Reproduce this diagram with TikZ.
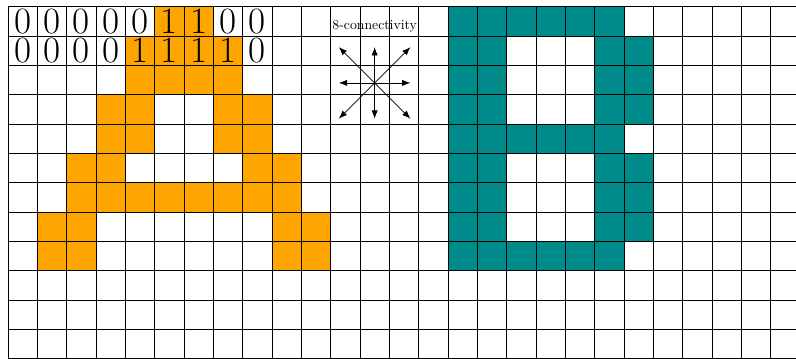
\documentclass[tikz,border=0pt]{standalone}
\usetikzlibrary{arrows.meta}
\definecolor{aorange}{RGB}{255,165,0}
\definecolor{bteal}{RGB}{0,139,139}

\begin{document}
\begin{tikzpicture}[x=0.75cm, y=0.75cm, >={Latex[length=6pt,width=4.5pt]}]
    \useasboundingbox (-0.273, -11.98) rectangle (26.866, 0.227);
    \clip (-0.273, -11.98) rectangle (26.866, 0.227);

    % 1. Letter A (orange cells)
    \foreach \c/\r in {5/0,6/0, 4/1,5/1,6/1,7/1, 4/2,5/2,6/2,7/2,
                       3/3,4/3,7/3,8/3, 3/4,4/4,7/4,8/4,
                       2/5,3/5,8/5,9/5, 2/6,3/6,4/6,5/6,6/6,7/6,8/6,9/6,
                       1/7,2/7,9/7,10/7, 1/8,2/8,9/8,10/8}
        \fill[aorange] (\c, -\r) rectangle ++(1, -1);

    % 2. Letter B (teal cells)
    \foreach \c/\r in {15/0,16/0,17/0,18/0,19/0,20/0,
                       15/1,16/1,20/1,21/1, 15/2,16/2,20/2,21/2, 15/3,16/3,20/3,21/3,
                       15/4,16/4,17/4,18/4,19/4,20/4,
                       15/5,16/5,20/5,21/5, 15/6,16/6,20/6,21/6, 15/7,16/7,20/7,21/7,
                       15/8,16/8,17/8,18/8,19/8,20/8}
        \fill[bteal] (\c, -\r) rectangle ++(1, -1);

    % 3. Pixel grid
    \draw[line width=0.5pt, step=0.75cm] (0, 0) grid (28, -13);

    % 4. Pixel values of the first two rows
    \foreach \v [count=\k from 0] in {0,0,0,0,0,1,1,0,0}
        \node[font=\fontsize{27}{30}\selectfont, inner sep=0pt] (top\k) at (\k+0.5, -0.5) {\v};
    \foreach \v [count=\k from 0] in {0,0,0,0,1,1,1,1,0}
        \node[font=\fontsize{27}{30}\selectfont, inner sep=0pt] (bot\k) at (\k+0.5, -1.5) {\v};

    % 5. Neighbourhood arrows
    \node (conn) at (12.5, -0.68) {8-connectivity};
    \coordinate (ctr) at (12.5, -2.6);
    \foreach \dx/\dy [count=\k] in {1/0,1/1,0/1,-1/1,-1/0,-1/-1,0/-1,1/-1} {
        \coordinate (tip\k) at ([shift={(1.22*\dx, 1.22*\dy)}]ctr);
        \draw[->, line width=0.5pt] (ctr) -- (tip\k);
    }

\end{tikzpicture}
\end{document}
